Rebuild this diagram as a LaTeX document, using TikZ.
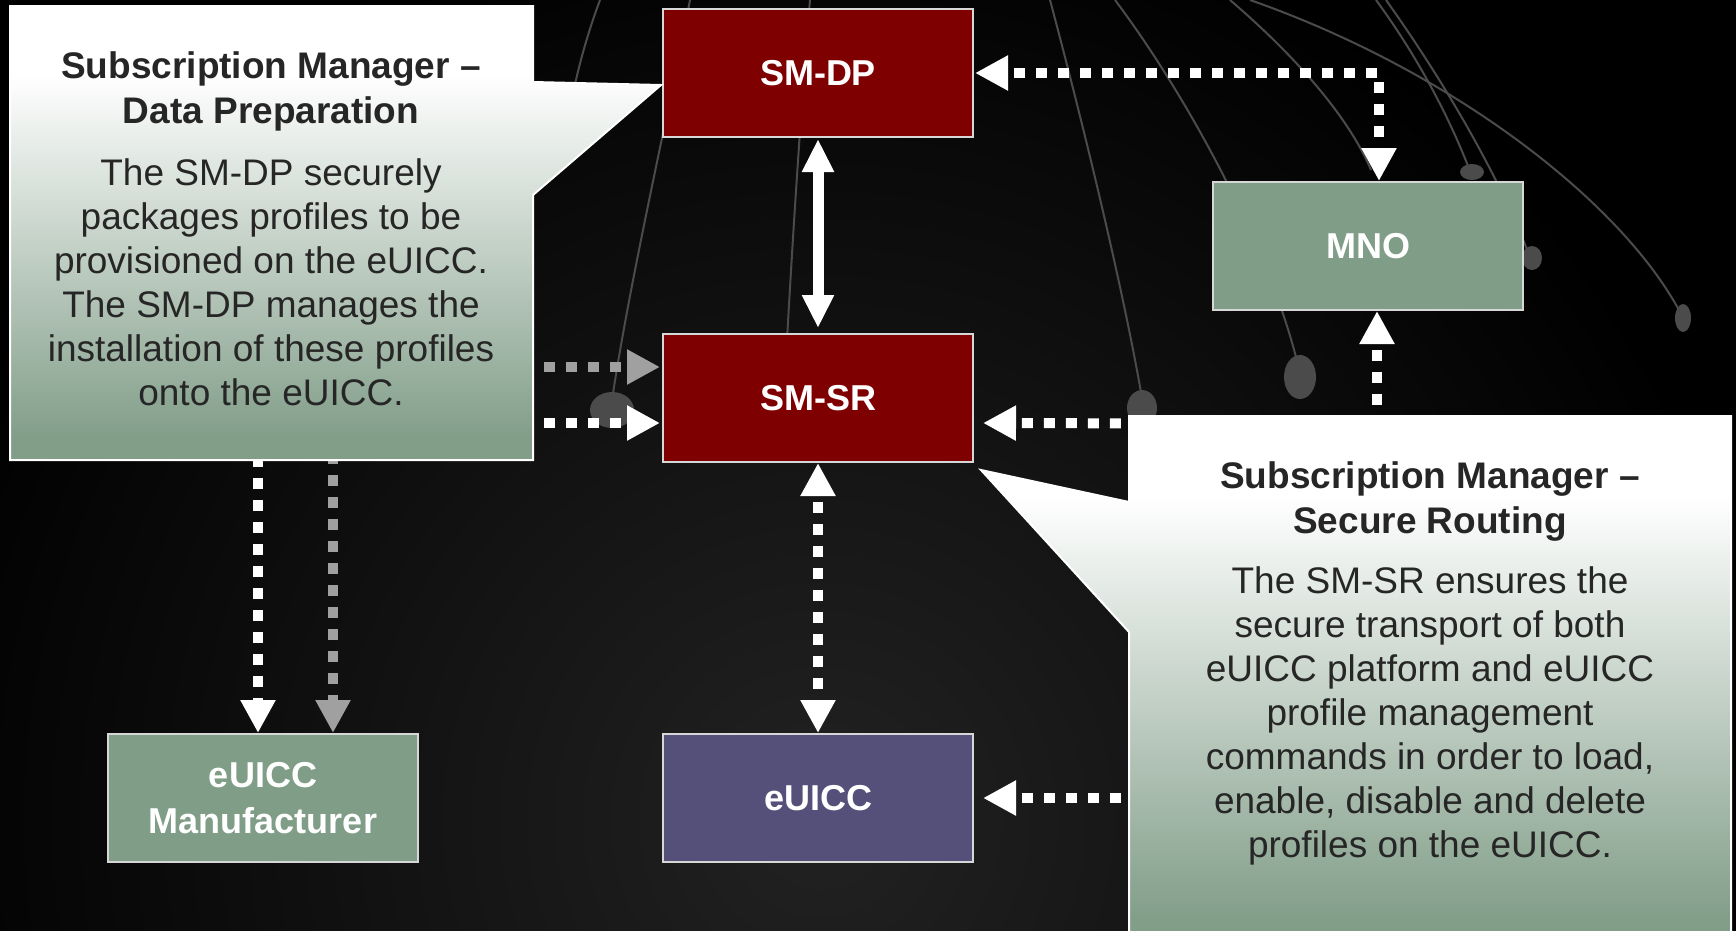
\documentclass[tikz,border=0pt]{standalone}
\usepackage{fontspec}
\setmainfont{Liberation Sans}
\usetikzlibrary{arrows.meta,calc}
\definecolor{smred}{RGB}{127,0,0}
\definecolor{smgreen}{RGB}{128,157,135}
\definecolor{smpurple}{RGB}{85,80,122}
\definecolor{callgreen}{RGB}{130,158,137}
\definecolor{txtdark}{RGB}{38,38,38}
\definecolor{arrgray}{RGB}{160,160,160}
\definecolor{boxline}{RGB}{215,215,215}
\definecolor{merid}{RGB}{75,75,75}
\definecolor{glow}{RGB}{34,34,34}
\pgfdeclareverticalshading{calloutshade}{100bp}{color(0bp)=(callgreen); color(25bp)=(callgreen); color(27.5bp)=(callgreen); color(67.5bp)=(white); color(75bp)=(white); color(100bp)=(white)}
\begin{document}
\begin{tikzpicture}[x=1pt,y=-1pt,
  >={Triangle[length=33pt,width=33pt]},
  box/.style={draw=boxline, line width=2pt, minimum width=310pt, minimum height=128pt, inner sep=0pt, text=white, align=center, font=\fontsize{36}{46}\selectfont\bfseries},
  redbox/.style={box, fill=smred},
  greenbox/.style={box, fill=smgreen},
  purplebox/.style={box, fill=smpurple},
  dotline/.style={line width=10pt, dash pattern=on 11pt off 11pt, dash phase=14pt},
  wdot/.style={dotline, draw=white},
  gdot/.style={dotline, draw=arrgray},
  wsolid/.style={draw=white, line width=11pt},
  callout/.style={draw=white, line width=2pt, shading=calloutshade},
  calltitle/.style={text=txtdark, align=center, inner sep=0pt, font=\fontsize{37}{45}\selectfont\bfseries},
  callbody/.style={text=txtdark, align=center, inner sep=0pt, font=\fontsize{37}{44}\selectfont},
  meridian/.style={draw=merid, line width=2pt},
  blob/.style={fill=merid}
]
\useasboundingbox (0,0) rectangle (1736,930);
\clip (0,0) rectangle (1736,930);
\fill[black] (0,0) rectangle (1736,930);
\shade[inner color=glow, outer color=black] (820,820) circle (950pt);

% globe meridians
\draw[meridian] (1050,0) .. controls (1090,150) and (1125,300) .. (1142,398);
\fill[blob] (1142,408) ellipse (15pt and 18pt);
\draw[meridian] (1115,0) .. controls (1190,100) and (1270,250) .. (1298,365);
\fill[blob] (1300,377) ellipse (16pt and 22pt);
\draw[meridian] (1230,0) .. controls (1300,60) and (1350,120) .. (1371,170);
\draw[meridian] (1376,0) .. controls (1420,60) and (1450,120) .. (1468,166);
\fill[blob] (1472,172) ellipse (12pt and 8pt);
\draw[meridian] (1386,0) .. controls (1450,90) and (1500,180) .. (1528,252);
\fill[blob] (1532,258) ellipse (10pt and 12pt);
\draw[meridian] (1250,0) .. controls (1450,70) and (1620,200) .. (1680,312);
\fill[blob] (1683,318) ellipse (8pt and 14pt);
\draw[meridian] (690,0) .. controls (665,130) and (630,280) .. (612,400);
\fill[blob] (612,410) ellipse (22pt and 18pt);
\draw[meridian] (810,0) .. controls (800,120) and (792,250) .. (787,340);
\draw[meridian] (600,0) .. controls (585,40) and (575,80) .. (570,110);

% boxes
\node[redbox] (smdp) at (818,73) {SM-DP};
\node[redbox] (smsr) at (818,398) {SM-SR};
\node[greenbox] (mno) at (1368,246) {MNO};
\node[purplebox] (euicc) at (818,798) {eUICC};
\node[greenbox] (mfr) at (263,798) {eUICC\\Manufacturer};

% connectors
\draw[wsolid,<->,>={Triangle[length=33pt,width=30pt]}] ($(smdp.south)+(0,1)$) -- ($(smsr.north)+(0,-5)$);
\draw[wdot,<->] ($(smdp.east)+(1,0)$) -| ($(mno.north)+(11,0)$);
\draw[wdot,<->] (smsr.south) -- (euicc.north);
\coordinate (rj) at ($(mno.south)+(9,113)$);
\draw[wdot,<-] ($(smsr.east)+(9,25)$) -- (rj);
\draw[wdot,<-] ($(mno.south)+(9,0)$) -- (rj);
\draw[wdot,<-] ($(euicc.east)+(9,0)$) -| (rj);
\draw[gdot,<->] ($(smsr.west)+(-2,-31)$) -| ($(mfr.north)+(70,0)$);
\draw[wdot,<->] ($(smsr.west)+(-2,25)$) -| ($(mfr.north)+(-5,0)$);

% callouts
\shadedraw[callout] (10,6) -- (533,6) -- (533,82) -- ($(smdp.west)+(-1,12)$) -- (533,195) -- (533,460) -- (10,460) -- cycle;
\shadedraw[callout] (1129,416) -- (1731,416) -- (1731,945) -- (1129,945) -- (1129,632) -- ($(smsr.south east)+(7,7)$) -- (1129,502) -- cycle;

\node[calltitle, anchor=north] (lt) at (271,51) {Subscription Manager –\\Data Preparation};
\node[callbody, anchor=north] (lb) at (271,158) {The SM-DP securely\\packages profiles to be\\provisioned on the eUICC.\\The SM-DP manages the\\installation of these profiles\\onto the eUICC.};
\node[calltitle, anchor=north] (rt) at (1430,461) {Subscription Manager –\\Secure Routing};
\node[callbody, anchor=north] (rb) at (1430,566) {The SM-SR ensures the\\secure transport of both\\eUICC platform and eUICC\\profile management\\commands in order to load,\\enable, disable and delete\\profiles on the eUICC.};
\end{tikzpicture}
\end{document}
